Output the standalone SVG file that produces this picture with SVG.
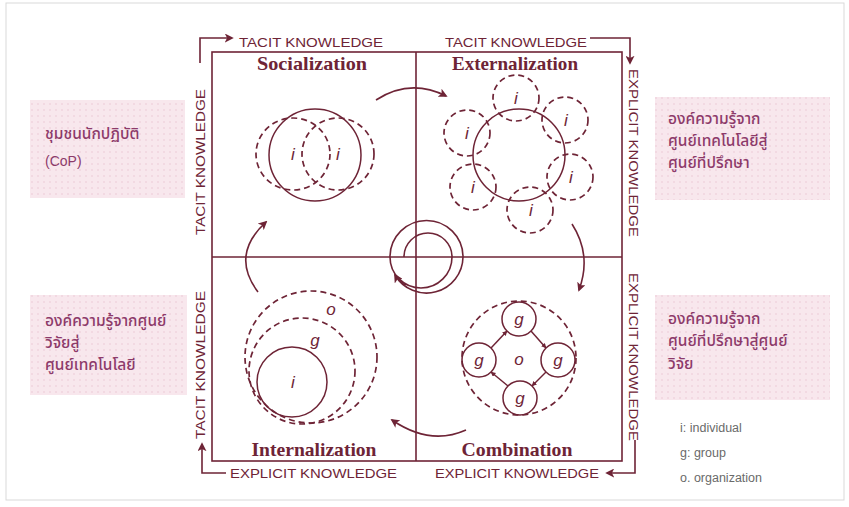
<svg xmlns="http://www.w3.org/2000/svg" width="849" height="507" viewBox="0 0 849 507">
<defs>
<style>
.ln{fill:none;stroke:#6e2436;stroke-width:1.6}
.sd{fill:none;stroke:#6e2436;stroke-width:1.7;stroke-dasharray:6 4}
.sl{fill:none;stroke:#6e2436;stroke-width:1.5}
.cap{font-family:"Liberation Sans",Arial,sans-serif;font-size:13.5px;fill:#6e2436}
.ttl{font-family:"Liberation Serif","Times New Roman",serif;font-size:19px;font-weight:bold;fill:#6e2436;text-anchor:middle}
.lb{font-family:"Liberation Sans",Arial,sans-serif;font-size:17px;font-style:italic;fill:#6e2436;text-anchor:middle}
.th{font-family:"Noto Sans Thai","Noto Sans","DejaVu Sans",sans-serif;font-size:15.5px;font-weight:500;fill:#8d3a6a}
.lg{font-family:"Liberation Sans",Arial,sans-serif;font-size:12.5px;fill:#6a6a6a}
.pk{fill:url(#dots)}
</style>
<pattern id="dots" width="6" height="6" patternUnits="userSpaceOnUse">
<rect width="6" height="6" fill="#f8e7ed"/>
<circle cx="2" cy="2" r="1" fill="#f0d5df"/>
</pattern>
<marker id="ah" viewBox="0 0 10 10" refX="8" refY="5" markerWidth="9" markerHeight="9" markerUnits="userSpaceOnUse" orient="auto">
<path d="M0,0 L10,5 L0,10 L2.5,5 Z" fill="#6e2436"/>
</marker>
<marker id="ahs" viewBox="0 0 10 10" refX="9" refY="5" markerWidth="5" markerHeight="5" markerUnits="userSpaceOnUse" orient="auto">
<path d="M0,0 L10,5 L0,10 Z" fill="#6e2436"/>
</marker>
</defs>
<rect x="0" y="0" width="849" height="507" fill="#fff"/>
<rect x="6" y="3" width="838" height="497" fill="none" stroke="#d9d9d9" stroke-width="1"/>

<!-- side notes -->
<g id="note-cop">
<rect class="pk" x="30" y="100" width="155" height="98"/>
<text class="th" x="45" y="139">ชุมชนนักปฏิบัติ</text>
<text class="th" x="45" y="166" style="font-family:'Liberation Sans',Arial,sans-serif;font-size:14px;font-weight:normal">(CoP)</text>
</g>
<g id="note-research">
<rect class="pk" x="30" y="295" width="157" height="100"/>
<text class="th" x="45" y="326">องค์ความรู้จากศูนย์</text>
<text class="th" x="45" y="348">วิจัยสู่</text>
<text class="th" x="45" y="370">ศูนย์เทคโนโลยี</text>
</g>
<g id="note-tech">
<rect class="pk" x="655" y="97" width="175" height="103"/>
<text class="th" x="668" y="124">องค์ความรู้จาก</text>
<text class="th" x="668" y="146">ศูนย์เทคโนโลยีสู่</text>
<text class="th" x="668" y="168">ศูนย์ที่ปรึกษา</text>
</g>
<g id="note-consult">
<rect class="pk" x="655" y="295" width="175" height="105"/>
<text class="th" x="668" y="324">องค์ความรู้จาก</text>
<text class="th" x="668" y="346">ศูนย์ที่ปรึกษาสู่ศูนย์</text>
<text class="th" x="668" y="369">วิจัย</text>
</g>
<g id="legend">
<text class="lg" x="680" y="432">i: individual</text>
<text class="lg" x="680" y="457">g: group</text>
<text class="lg" x="680" y="482">o. organization</text>
</g>

<!-- frame -->
<g id="frame">
<rect class="ln" x="212" y="52" width="410" height="409"/>
<line class="ln" x1="416" y1="52" x2="416" y2="461"/>
<line class="ln" x1="212" y1="257" x2="622" y2="257"/>
</g>

<!-- axis labels -->
<g id="axis-labels">
<text class="cap" x="239" y="47" textLength="144" lengthAdjust="spacingAndGlyphs">TACIT KNOWLEDGE</text>
<text class="cap" x="445" y="47" textLength="142" lengthAdjust="spacingAndGlyphs">TACIT KNOWLEDGE</text>
<text class="cap" x="230" y="478" textLength="167" lengthAdjust="spacingAndGlyphs">EXPLICIT KNOWLEDGE</text>
<text class="cap" x="435" y="478" textLength="164" lengthAdjust="spacingAndGlyphs">EXPLICIT KNOWLEDGE</text>
<text class="cap" transform="translate(205,162) rotate(-90)" text-anchor="middle" textLength="146" lengthAdjust="spacingAndGlyphs">TACIT KNOWLEDGE</text>
<text class="cap" transform="translate(205,365) rotate(-90)" text-anchor="middle" textLength="148" lengthAdjust="spacingAndGlyphs">TACIT KNOWLEDGE</text>
<text class="cap" transform="translate(629,153) rotate(90)" text-anchor="middle" textLength="168" lengthAdjust="spacingAndGlyphs">EXPLICIT KNOWLEDGE</text>
<text class="cap" transform="translate(629,357) rotate(90)" text-anchor="middle" textLength="168" lengthAdjust="spacingAndGlyphs">EXPLICIT KNOWLEDGE</text>
</g>

<!-- titles -->
<g id="titles">
<text class="ttl" x="312" y="70" textLength="110" lengthAdjust="spacingAndGlyphs">Socialization</text>
<text class="ttl" x="515" y="70" textLength="126" lengthAdjust="spacingAndGlyphs">Externalization</text>
<text class="ttl" x="314" y="456" textLength="125" lengthAdjust="spacingAndGlyphs">Internalization</text>
<text class="ttl" x="517" y="456" textLength="111" lengthAdjust="spacingAndGlyphs">Combination</text>
</g>

<!-- socialization -->
<g id="socialization">
<circle class="sl" cx="315" cy="155" r="46"/>
<ellipse class="sd" cx="293" cy="154" rx="37" ry="36"/>
<ellipse class="sd" cx="338" cy="154" rx="36" ry="36"/>
<text class="lb" x="293" y="160">i</text>
<text class="lb" x="338" y="160">i</text>
</g>

<!-- externalization -->
<g id="externalization">
<circle class="sl" cx="519" cy="155" r="46"/>
<circle class="sd" cx="516" cy="98" r="23"/>
<circle class="sd" cx="565" cy="120" r="23"/>
<circle class="sd" cx="570" cy="177" r="23"/>
<circle class="sd" cx="530" cy="210" r="23"/>
<circle class="sd" cx="473" cy="187" r="23"/>
<circle class="sd" cx="467" cy="133" r="23"/>
<text class="lb" x="516" y="104">i</text>
<text class="lb" x="566" y="126">i</text>
<text class="lb" x="571" y="183">i</text>
<text class="lb" x="531" y="216">i</text>
<text class="lb" x="473" y="193">i</text>
<text class="lb" x="467" y="139">i</text>
</g>

<!-- internalization -->
<g id="internalization">
<circle class="sd" cx="311" cy="357" r="66"/>
<circle class="sd" cx="302" cy="371" r="53"/>
<circle class="sl" cx="292" cy="382" r="35"/>
<text class="lb" x="331" y="315">o</text>
<text class="lb" x="315" y="346">g</text>
<text class="lb" x="293" y="388">i</text>
</g>

<!-- combination -->
<g id="combination">
<circle class="sd" cx="519" cy="358" r="57"/>
<circle class="sl" cx="519" cy="319" r="17"/>
<circle class="sl" cx="479" cy="360" r="17"/>
<circle class="sl" cx="558" cy="360" r="17"/>
<circle class="sl" cx="520" cy="398" r="17"/>
<text class="lb" x="519" y="325">g</text>
<text class="lb" x="479" y="366">g</text>
<text class="lb" x="558" y="366">g</text>
<text class="lb" x="520" y="404">g</text>
<text class="lb" x="519" y="365">o</text>
</g>

<!-- connectors -->
<g id="connectors">
<path class="ln" d="M200,63 L200,38 L232,38" marker-end="url(#ah)"/>
<path class="ln" d="M590,38 L630,38 L630,63" marker-end="url(#ah)"/>
<path class="ln" d="M226,473 L202,473 L202,444" marker-end="url(#ah)"/>
<path class="ln" d="M635,440 L635,473 L607,473" marker-end="url(#ah)"/>
<path class="ln" d="M376,100 Q410,78 446,96" marker-end="url(#ah)"/>
<path class="ln" d="M572,224 Q592,255 579,290" marker-end="url(#ah)"/>
<path class="ln" d="M466,430 Q430,446 392,420" marker-end="url(#ah)"/>
<path class="ln" d="M258,292 Q230,255 266,222" marker-end="url(#ah)"/>
<path class="ln" d="M404,257 A24,24 0 0 1 452,257 A31,31 0 0 1 390,257 A36.5,36.5 0 0 1 463,257 A36.5,36.5 0 0 1 395,275" marker-end="url(#ah)"/>
<line class="sl" x1="531" y1="331" x2="546" y2="348" marker-end="url(#ahs)"/>
<line class="sl" x1="546" y1="372" x2="532" y2="386" marker-end="url(#ahs)"/>
<line class="sl" x1="508" y1="386" x2="491" y2="372" marker-end="url(#ahs)"/>
<line class="sl" x1="491" y1="348" x2="507" y2="331" marker-end="url(#ahs)"/>
</g>
</svg>
